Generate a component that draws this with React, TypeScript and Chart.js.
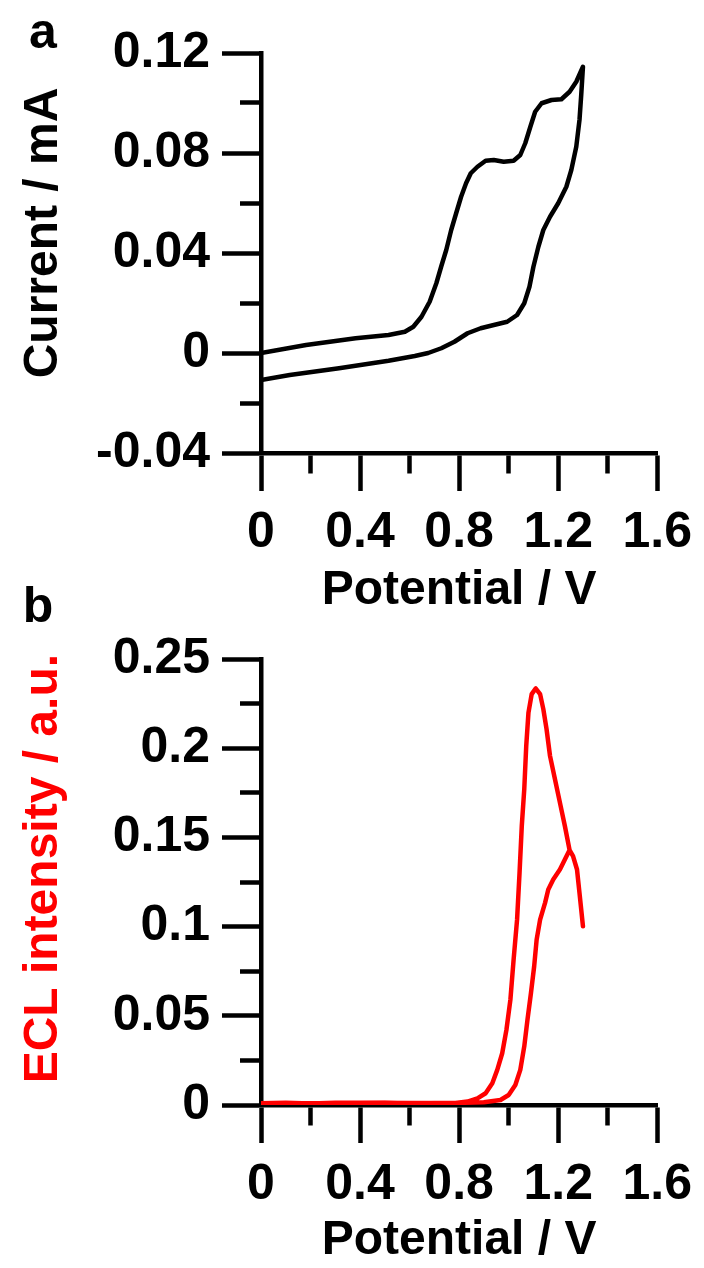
import React, { useEffect, useRef } from 'react';
import { Chart, registerables } from 'chart.js';

Chart.register(...registerables);

const FONT = "'Liberation Sans', Arial, Helvetica, sans-serif";

// ---------- Panel a: cyclic voltammogram ----------
const cvPotential = [
  0, 0.182, 0.382, 0.515, 0.581, 0.615, 0.648, 0.681, 0.708, 0.728,
  0.748, 0.768, 0.788, 0.808, 0.828, 0.847, 0.874, 0.907, 0.94, 0.98,
  1.02, 1.047, 1.067, 1.087, 1.107, 1.133, 1.173, 1.213, 1.246, 1.273,
  1.3,
  1.293, 1.286, 1.273, 1.253, 1.233, 1.2, 1.167, 1.14, 1.12,
  1.1, 1.084, 1.063, 1.034, 0.994, 0.94, 0.887, 0.834, 0.781, 0.728,
  0.675, 0.621, 0.515, 0.315, 0.116, 0,
];
const cvCurrent = [
  0, 0.0032, 0.0059, 0.0072, 0.0085, 0.0105, 0.0145, 0.0205, 0.0279, 0.0347,
  0.0412, 0.0492, 0.0559, 0.0625, 0.0679, 0.0719, 0.0745, 0.0769, 0.0772, 0.0765,
  0.0769, 0.0792, 0.0839, 0.0903, 0.0965, 0.0999, 0.1012, 0.1015, 0.1045, 0.1085,
  0.1145,
  0.1032, 0.0932, 0.0825, 0.0732, 0.0665, 0.0599, 0.0545, 0.0492, 0.0425,
  0.0345, 0.0265, 0.0199, 0.0152, 0.0125, 0.0112, 0.0099, 0.0079, 0.0045, 0.0019,
  0, -0.0012, -0.0031, -0.0061, -0.0088, -0.0108,
];
const cvYTickValues = [-0.04, 0, 0.04, 0.08, 0.12];
const cvYTickLabels = ['-0.04', '0', '0.04', '0.08', '0.12'];

// ---------- Panel b: ECL intensity ----------
const eclPotential = [
  0, 0.1, 0.2, 0.3, 0.4, 0.5, 0.6, 0.7, 0.8, 0.9,
  0.967, 1.0, 1.027, 1.047, 1.063, 1.076, 1.09, 1.103, 1.113, 1.127,
  1.147, 1.16, 1.18, 1.207, 1.227, 1.246, 1.26, 1.276, 1.286, 1.3,
  1.286, 1.276, 1.26, 1.246, 1.227, 1.207, 1.187, 1.167, 1.153, 1.14,
  1.127, 1.109, 1.093, 1.08, 1.071, 1.063, 1.053, 1.044, 1.034, 1.02,
  1.007, 0.991, 0.974, 0.954, 0.934, 0.907, 0.874, 0.834, 0.768, 0.6,
  0.4, 0.2, 0,
];
const eclIntensity = [
  0.001, 0.0013, 0.0009, 0.0012, 0.0011, 0.0013, 0.001, 0.0011, 0.0012, 0.0015,
  0.0028, 0.0056, 0.0112, 0.0197, 0.0328, 0.0478, 0.0627, 0.0777, 0.0927, 0.1039,
  0.1133, 0.1208, 0.1264, 0.132, 0.1376, 0.1429, 0.1395, 0.132, 0.1189, 0.1002,
  0.1189, 0.132, 0.1395, 0.1429, 0.1564, 0.1695, 0.1826, 0.1957, 0.2107, 0.2219,
  0.2303, 0.2335, 0.2303, 0.22, 0.2013, 0.177, 0.1564, 0.1302, 0.1039, 0.0815,
  0.059, 0.0421, 0.029, 0.0197, 0.0122, 0.0066, 0.0037, 0.0019, 0.0009, 0.0011,
  0.0012, 0.001, 0.0008,
];
const eclYTickValues = [0, 0.05, 0.1, 0.15, 0.2, 0.25];
const eclYTickLabels = ['0', '0.05', '0.1', '0.15', '0.2', '0.25'];

// ---------- shared x axis ticks ----------
const xTickValues = [0, 0.4, 0.8, 1.2, 1.6];
const xTickLabels = ['0', '0.4', '0.8', '1.2', '1.6'];

const near = (a: number, b: number) => Math.abs(a - b) < 1e-6;
const labelFor = (v: number, vals: number[], labs: string[]) => {
  const i = vals.findIndex((t) => near(t, v));
  return i >= 0 ? labs[i] : '';
};
const isMajor = (v: number, vals: number[]) => vals.some((t) => near(t, v));

const tickFont = { family: FONT, size: 50, weight: 'bold', lineHeight: 1.2 };
const titleFont = { family: FONT, size: 48, weight: 'bold', lineHeight: 1 };
const LINE = 4.5;

function xAxis(height: number, titlePad: number) {
  return {
    type: 'linear',
    min: 0,
    max: 1.6,
    ticks: {
      stepSize: 0.2,
      autoSkip: false,
      maxRotation: 0,
      minRotation: 0,
      padding: 12,
      color: '#000',
      font: tickFont,
      callback: (v: number) => labelFor(v, xTickValues, xTickLabels),
    },
    grid: {
      drawOnChartArea: false,
      tickLength: 38,
      tickWidth: LINE,
      tickColor: '#000',
      tickBorderDash: (ctx: any) =>
        ctx.tick && isMajor(ctx.tick.value, xTickValues) ? [] : [18, 80],
    },
    border: { display: true, width: LINE, color: '#000' },
    title: {
      display: true,
      text: 'Potential / V',
      color: '#000',
      font: titleFont,
      padding: { top: 0, bottom: titlePad },
    },
    afterFit: (s: any) => {
      s.height = height;
    },
  };
}

function yAxis(
  min: number,
  max: number,
  step: number,
  vals: number[],
  labs: string[],
  title: string,
  titleColor: string
) {
  return {
    type: 'linear',
    min,
    max,
    ticks: {
      stepSize: step,
      autoSkip: false,
      padding: 12,
      color: '#000',
      font: tickFont,
      callback: (v: number) => labelFor(v, vals, labs),
    },
    grid: {
      drawOnChartArea: false,
      tickLength: 39,
      tickWidth: LINE,
      tickColor: '#000',
      tickBorderDash: (ctx: any) =>
        ctx.tick && isMajor(ctx.tick.value, vals) ? [] : [0, 18, 80],
    },
    border: { display: true, width: LINE, color: '#000' },
    title: {
      display: true,
      text: title,
      color: titleColor,
      font: titleFont,
      padding: { top: 20, bottom: 0 },
    },
    afterFit: (s: any) => {
      s.width = 261;
    },
  };
}

const letterPlugin = (letter: string, x: number, y: number) => ({
  id: 'panelLetter' + letter,
  afterDraw(chart: any) {
    const ctx = chart.ctx;
    ctx.save();
    ctx.font = `bold 50px ${FONT}`;
    ctx.fillStyle = '#000';
    ctx.textAlign = 'center';
    ctx.textBaseline = 'alphabetic';
    ctx.fillText(letter, x, y);
    ctx.restore();
  },
});

function lineDataset(xs: number[], ys: number[], color: string) {
  return {
    data: xs.map((x, i) => ({ x, y: ys[i] })),
    borderColor: color,
    borderWidth: LINE,
    pointRadius: 0,
    fill: false,
    tension: 0,
    borderJoinStyle: 'round',
    borderCapStyle: 'round',
  };
}

function makeConfigA(): any {
  return {
    type: 'line',
    data: { datasets: [lineDataset(cvPotential, cvCurrent, '#000')] },
    options: {
      responsive: false,
      animation: false,
      devicePixelRatio: 1,
      layout: { padding: { top: 53, right: 42, left: 0, bottom: 0 } },
      plugins: { legend: { display: false }, tooltip: { enabled: false } },
      scales: {
        x: xAxis(172, 10),
        y: yAxis(-0.04, 0.12, 0.02, cvYTickValues, cvYTickLabels, '   Current / mA', '#000'),
      },
    },
    plugins: [letterPlugin('a', 43, 48)],
  };
}

function makeConfigB(): any {
  return {
    type: 'line',
    data: { datasets: [lineDataset(eclPotential, eclIntensity, '#ff0000')] },
    options: {
      responsive: false,
      animation: false,
      devicePixelRatio: 1,
      layout: { padding: { top: 81, right: 42, left: 0, bottom: 0 } },
      plugins: { legend: { display: false }, tooltip: { enabled: false } },
      scales: {
        x: xAxis(163, 3),
        y: yAxis(0, 0.25, 0.025, eclYTickValues, eclYTickLabels, '  ECL intensity / a.u.', '#ff0000'),
      },
    },
    plugins: [letterPlugin('b', 38, 44)],
  };
}

function ChartCanvas({ make, top, height }: { make: () => any; top: number; height: number }) {
  const ref = useRef<HTMLCanvasElement>(null);
  useEffect(() => {
    const chart = new Chart(ref.current as HTMLCanvasElement, make());
    return () => chart.destroy();
  }, []);
  return (
    <canvas
      ref={ref}
      width={704}
      height={height}
      style={{ position: 'absolute', left: 0, top, width: 704, height }}
    />
  );
}

export default function App() {
  return (
    <div
      style={{
        position: 'absolute',
        left: 0,
        top: 0,
        width: 704,
        height: 1268,
        background: '#fff',
        overflow: 'hidden',
      }}
    >
      <ChartCanvas make={makeConfigA} top={0} height={625} />
      <ChartCanvas make={makeConfigB} top={578} height={690} />
    </div>
  );
}
